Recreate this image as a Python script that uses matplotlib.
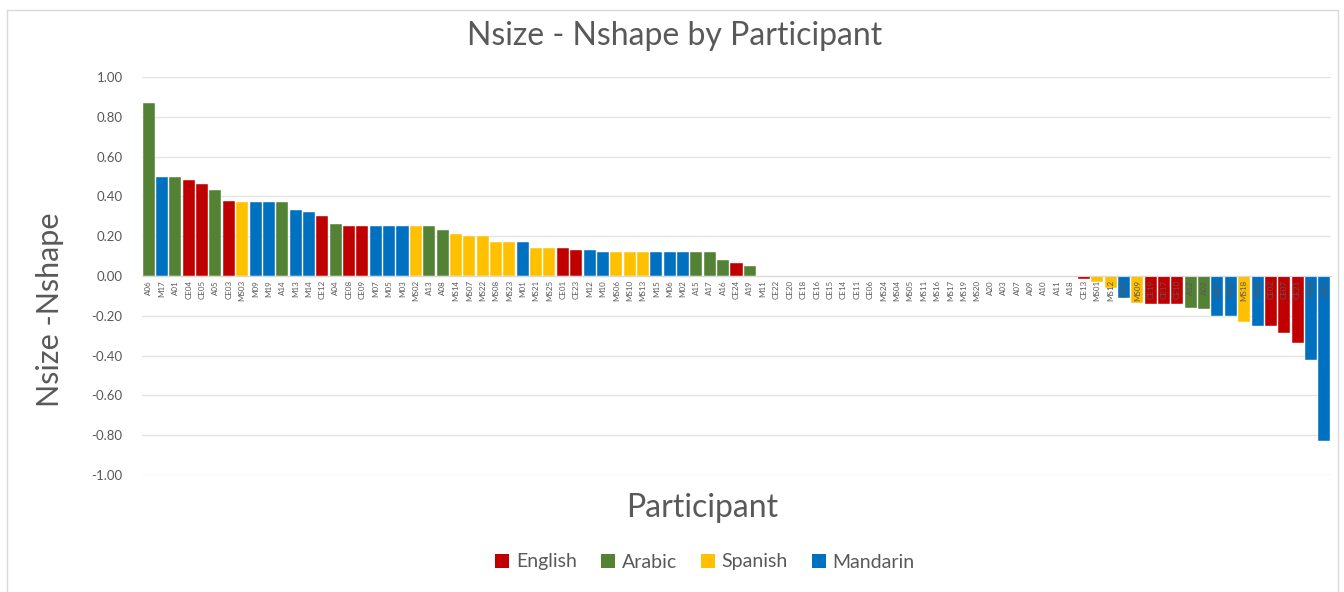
"""Nsize - Nshape difference per participant, coloured by language group."""

import matplotlib

matplotlib.use("Agg")
import matplotlib.pyplot as plt
from matplotlib.patches import Patch, Rectangle

participants = [
    "A06", "M17", "A01", "CE04", "CE05", "A05", "CE03", "MS03", "M09", "M19",
    "A14", "M13", "M14", "CE12", "A04", "CE08", "CE09", "M07", "M05", "M03",
    "MS02", "A13", "A08", "MS14", "MS07", "MS22", "MS08", "MS23", "M01", "MS21",
    "MS25", "CE01", "CE23", "M12", "M10", "MS06", "MS10", "MS13", "M15", "M06",
    "M02", "A15", "A17", "A16", "CE24", "A19", "M11", "CE22", "CE20", "CE18",
    "CE16", "CE15", "CE14", "CE11", "CE06", "MS24", "MS04", "MS05", "MS11", "MS16",
    "MS17", "MS19", "MS20", "A20", "A03", "A07", "A09", "A10", "A11", "A18",
    "CE13", "MS01", "MS12", "M20", "MS09", "CE19", "CE17", "CE10", "A12", "A02",
    "M21", "M18", "MS18", "M04", "CE02", "CE07", "CE21", "M08", "M16",
]

diff = [
    0.87, 0.50, 0.50, 0.48, 0.46, 0.43, 0.375, 0.37, 0.37, 0.37,
    0.37, 0.33, 0.32, 0.30, 0.26, 0.25, 0.25, 0.25, 0.25, 0.25,
    0.25, 0.25, 0.23, 0.21, 0.20, 0.20, 0.17, 0.17, 0.17, 0.14,
    0.14, 0.14, 0.13, 0.13, 0.12, 0.12, 0.12, 0.12, 0.12, 0.12,
    0.12, 0.12, 0.12, 0.08, 0.065, 0.05, 0.0, 0.0, 0.0, 0.0,
    0.0, 0.0, 0.0, 0.0, 0.0, 0.0, 0.0, 0.0, 0.0, 0.0,
    0.0, 0.0, 0.0, 0.0, 0.0, 0.0, 0.0, 0.0, 0.0, 0.0,
    -0.015, -0.03, -0.06, -0.11, -0.135, -0.14, -0.14, -0.14, -0.16, -0.165,
    -0.20, -0.20, -0.23, -0.25, -0.25, -0.285, -0.335, -0.42, -0.83,
]

languages = ["English", "Arabic", "Spanish", "Mandarin"]
prefixes = ["CE", "A", "MS", "M"]
colors = ["#C00000", "#548235", "#FFC000", "#0070C0"]
y_ticks = [-1.0, -0.8, -0.6, -0.4, -0.2, 0.0, 0.2, 0.4, 0.6, 0.8, 1.0]


def group_of(code):
    # "MS" must be checked before "M"
    for i, p in enumerate(prefixes):
        if code.startswith(p) and code[len(p):].isdigit():
            return i
    return 3


plt.rcParams["font.family"] = ["Lato", "DejaVu Sans"]
grey = "#595959"

fig = plt.figure(figsize=(13.44, 5.92), dpi=100)
ax = fig.add_axes([142 / 1344, 1 - 475 / 592, 1189 / 1344, 398 / 592])

bar_colors = [colors[group_of(p)] for p in participants]
ax.bar(range(len(participants)), diff, width=0.9, color=bar_colors,
       edgecolor="white", linewidth=0.3, zorder=2)

for side in ["left", "right", "top"]:
    ax.spines[side].set_visible(False)
ax.spines["bottom"].set_position(("data", 0))
ax.spines["bottom"].set_color("#d9d9d9")

ax.set_xlim(-0.5, len(participants) - 0.5)
ax.set_ylim(-1.0, 1.0)
ax.set_yticks(y_ticks)
ax.set_yticklabels([f"{v:.2f}" for v in y_ticks])
ax.tick_params(axis="y", length=0, pad=14, labelsize=9.5, labelcolor=grey)
ax.yaxis.grid(True, color="#e4e4e4", linewidth=1.0)

ax.set_xticks(range(len(participants)))
ax.set_xticklabels(participants)
ax.tick_params(axis="x", length=0, pad=3, labelsize=5.8, labelcolor=grey,
               labelrotation=90)

# grid behind the bars, participant labels over them
ax.yaxis.set_zorder(0.5)
ax.xaxis.set_zorder(5)

fig.text(0.502, 1 - 36 / 592, "Nsize - Nshape by Participant", ha="center",
         va="center", fontsize=23, color=grey)
fig.text(50 / 1344, 1 - 310 / 592, "Nsize -Nshape", rotation=90, ha="center",
         va="center", fontsize=22, color=grey)
fig.text(702 / 1344, 1 - 508 / 592, "Participant", ha="center", va="center",
         fontsize=23, color=grey)

handles = [Patch(facecolor=c, edgecolor="none") for c in colors]
fig.legend(handles, languages, loc="center", bbox_to_anchor=(705 / 1344, 1 - 562 / 592),
           ncol=4, frameon=False, fontsize=14, labelcolor=grey,
           handlelength=0.7, handleheight=0.7, handletextpad=0.35, columnspacing=1.25)

fig.patches.append(Rectangle((7 / 1344, -0.01), 1331 / 1344, 1 - 10 / 592 + 0.01,
                             transform=fig.transFigure, fill=False,
                             edgecolor="#d9d9d9", linewidth=1.0))

fig.savefig("out.png", dpi=100)
plt.close(fig)
